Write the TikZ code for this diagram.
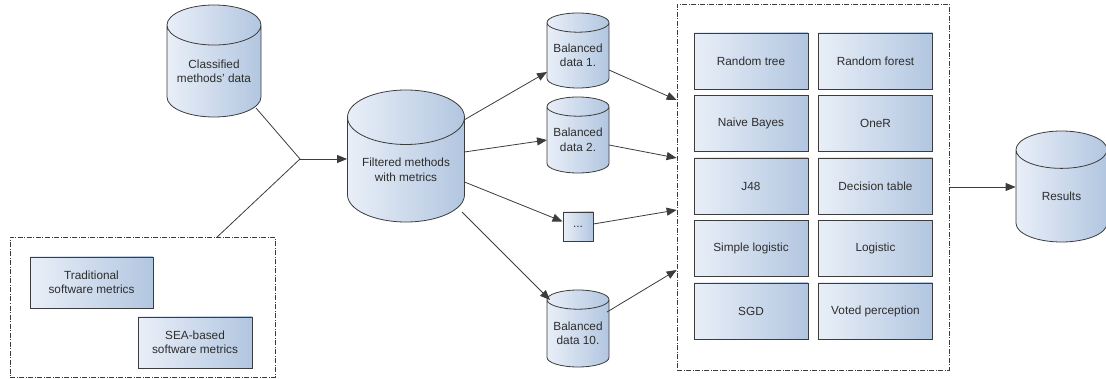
\documentclass[tikz,border=0pt]{standalone}
\usepackage{fontspec}
\setmainfont{Liberation Sans}
\usepackage{tikz}
\usetikzlibrary{arrows.meta, positioning, shapes.geometric}

\definecolor{boxlight}{RGB}{233,239,248}
\definecolor{boxdark}{RGB}{178,198,224}
\definecolor{linegray}{RGB}{60,60,60}
\definecolor{textgray}{RGB}{45,45,45}

\begin{document}
\begin{tikzpicture}[
    x=1pt, y=1pt,
    lbl/.style={font=\fontsize{11.8}{14.5}\selectfont, text=textgray, align=center},
    db/.style={lbl, cylinder, shape border rotate=90, draw=linegray, line width=0.8pt,
        left color=boxlight, right color=boxdark, inner sep=0pt, anchor=shape center},
    algo/.style={lbl, rectangle, draw=linegray, line width=0.9pt,
        left color=boxlight, right color=boxdark, minimum width=114pt, minimum height=56pt},
    group/.style={rectangle, draw=linegray, line width=0.7pt,
        dash pattern=on 5pt off 1.5pt on 1pt off 1.5pt},
    flow/.style={draw=linegray, line width=0.8pt, -{Triangle[length=10pt, width=8pt]}},
    link/.style={draw=linegray, line width=0.8pt}
]
    \useasboundingbox (0,0) rectangle (1106,-379);

    % input data
    \node at (214, -61) (classified) [db, minimum width=94pt, minimum height=112pt, aspect=0.54] {Classified\\methods' data};

    \node at (142.5, -307.5) (metrics) [group, minimum width=265pt, minimum height=140pt] {};
    \node at (91.5, -282.5) (trad) [algo, minimum width=123pt, minimum height=51pt] {Traditional\\software metrics};
    \node at (195, -342.5) (sea) [algo, minimum width=114pt, minimum height=51pt] {SEA-based\\software metrics};

    \coordinate (join) at (300, -159);

    \node at (406, -156) (filtered) [db, minimum width=117pt, minimum height=132pt, aspect=0.62] {Filtered methods\\with metrics};

    % balanced sets
    \node at (578, -50.5) (bal1) [db, minimum width=62pt, minimum height=75pt, aspect=0.39] {Balanced\\data 1.};
    \node at (578, -135) (bal2) [db, minimum width=62pt, minimum height=76pt, aspect=0.39] {Balanced\\data 2.};
    \node at (578, -226.5) (dots) [algo, minimum width=30pt, minimum height=29pt] {...};
    \node at (578, -328.5) (bal10) [db, minimum width=62pt, minimum height=77pt, aspect=0.39] {Balanced\\data 10.};

    % classifiers
    \node at (813, -187) (algos) [group, minimum width=272pt, minimum height=366pt] {};
    \node at (751, -61) (rtree) [algo] {Random tree};
    \node at (875.5, -61) (rforest) [algo] {Random forest};
    \node at (751, -123.5) (bayes) [algo] {Naive Bayes};
    \node at (875.5, -123.5) (oner) [algo] {OneR};
    \node at (751, -186) (j48) [algo] {J48};
    \node at (875.5, -186) (dtable) [algo] {Decision table};
    \node at (751, -248.5) (slog) [algo] {Simple logistic};
    \node at (875.5, -248.5) (log) [algo] {Logistic};
    \node at (751, -311) (sgd) [algo] {SGD};
    \node at (875.5, -311) (voted) [algo] {Voted perception};

    \node at (1061.5, -186.5) (results) [db, minimum width=91pt, minimum height=111pt, aspect=0.95] {Results};

    \path[link] ([xshift=42pt, yshift=-47pt]classified.shape center) -- (join);
    \path[link] ([xshift=74.5pt]metrics.north) -- (join);
    \path[flow] (join) -- (join -| filtered.west);

    \path[flow] ([xshift=58pt, yshift=36pt]filtered.shape center) -- ([xshift=-31pt, yshift=-21.5pt]bal1.shape center);
    \path[flow] ([xshift=58.5pt, yshift=4pt]filtered.shape center) -- ([xshift=-31pt, yshift=-5pt]bal2.shape center);
    \path[flow] ([xshift=58.5pt, yshift=-26pt]filtered.shape center) -- ([yshift=5pt]dots.west);
    \path[flow] ([xshift=56pt, yshift=-56pt]filtered.shape center) -- ([xshift=-28pt, yshift=28.5pt]bal10.shape center);

    \path[flow] ([xshift=31pt, yshift=-19.5pt]bal1.shape center) -- ([yshift=87pt]algos.west);
    \path[flow] ([xshift=31pt, yshift=-10pt]bal2.shape center) -- ([yshift=29pt]algos.west);
    \path[flow] ([yshift=2.5pt]dots.east) -- ([yshift=-23pt]algos.west);
    \path[flow] ([xshift=29pt, yshift=16.5pt]bal10.shape center) -- ([yshift=-83pt]algos.west);

    \path[flow] (algos.east) -- (algos.east -| results.west);

\end{tikzpicture}
\end{document}
